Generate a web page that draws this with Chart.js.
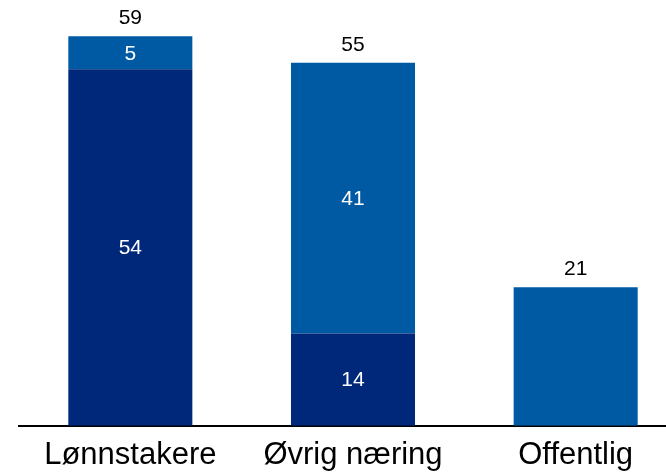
<!DOCTYPE html>
<html>
<head>
<meta charset="utf-8">
<script src="https://cdn.jsdelivr.net/npm/chart.js@4"></script>
<style>
  html, body { margin: 0; padding: 0; background: #fff; overflow: hidden; }
  #wrap { width: 700px; height: 473px; position: relative; }
</style>
</head>
<body>
<div id="wrap"><canvas id="chart"></canvas></div>
<script>
const categories = ['Lønnstakere', 'Øvrig næring', 'Offentlig'];
const darkValues = [54, 14, 0];
const lightValues = [5, 41, 21];
const totals = [59, 55, 21];

const darkBlue = '#00287a';
const midBlue = '#005aa3';
const fontFamily = "'Liberation Sans', Arial, sans-serif";

// draws the value inside each segment and the total above each bar
const valueLabels = {
  id: 'valueLabels',
  afterDatasetsDraw(chart) {
    const ctx = chart.ctx;
    ctx.save();
    ctx.textAlign = 'center';
    ctx.textBaseline = 'middle';
    ctx.font = '21px ' + fontFamily;
    chart.data.datasets.forEach((ds, i) => {
      chart.getDatasetMeta(i).data.forEach((bar, j) => {
        // single-segment bars only get the total
        if (!ds.data[j] || ds.data[j] === totals[j]) return;
        ctx.fillStyle = '#ffffff';
        ctx.fillText(ds.data[j], bar.x, (bar.y + bar.base) / 2 + 1);
      });
    });
    const top = chart.getDatasetMeta(1).data;
    const yScale = chart.scales.y;
    totals.forEach((t, j) => {
      ctx.fillStyle = '#000000';
      ctx.fillText(t, top[j].x, yScale.getPixelForValue(t) - 18);
    });
    ctx.restore();
  }
};

new Chart(document.getElementById('chart'), {
  type: 'bar',
  data: {
    labels: categories,
    datasets: [
      { label: 'dark', data: darkValues, backgroundColor: darkBlue },
      { label: 'light', data: lightValues, backgroundColor: midBlue }
    ]
  },
  options: {
    responsive: true,
    maintainAspectRatio: false,
    animation: false,
    layout: { padding: { left: 19, right: 13, top: 0, bottom: -12 } },
    datasets: { bar: { categoryPercentage: 1, barPercentage: 0.557 } },
    plugins: { legend: { display: false }, tooltip: { enabled: false } },
    scales: {
      x: {
        stacked: true,
        grid: { display: false, drawTicks: false },
        border: { display: true, color: '#000', width: 2 },
        ticks: { color: '#000', padding: 11, font: { family: fontFamily, size: 31 } }
      },
      y: {
        stacked: true,
        display: false,
        min: 0,
        max: 64.5
      }
    }
  },
  plugins: [valueLabels]
});
</script>
</body>
</html>
